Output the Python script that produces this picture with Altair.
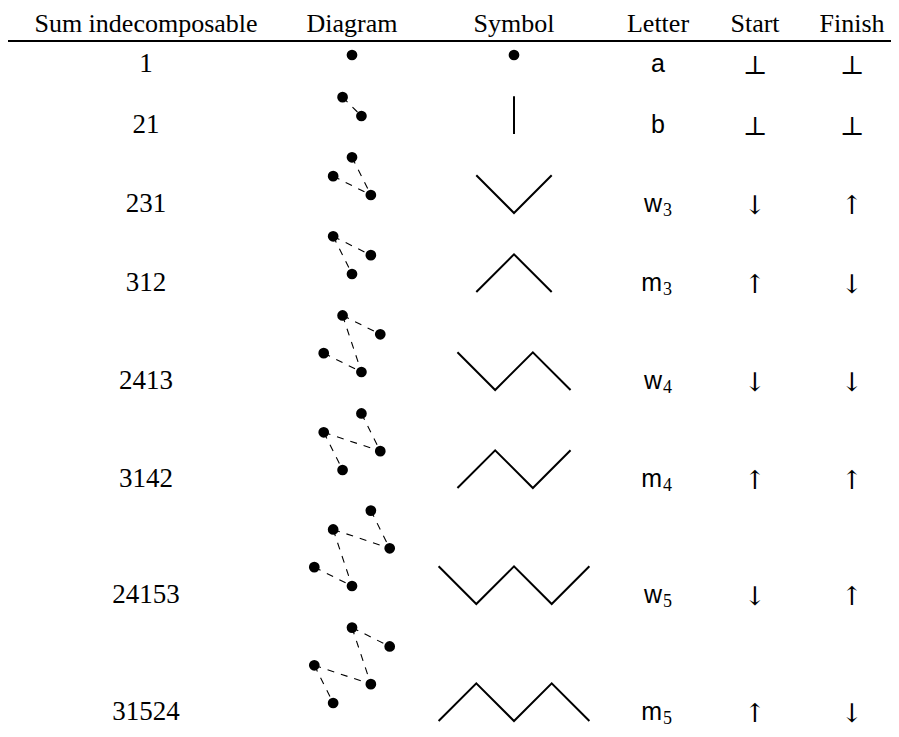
import altair as alt
import pandas as pd

# ---------------- data ----------------
headers = ["Sum indecomposable", "Diagram", "Symbol", "Letter", "Start", "Finish"]
perms = ["1", "21", "231", "312", "2413", "3142", "24153", "31524"]
letters = ["a", "b", "w", "m", "w", "m", "w", "m"]
subscripts = ["", "", "3", "3", "4", "4", "5", "5"]
starts = ["⊥", "⊥", "↓", "↑", "↓", "↑", "↓", "↑"]
finishes = ["⊥", "⊥", "↑", "↓", "↓", "↑", "↑", "↓"]
symbol_cols = [[0], [0, 0], [0, 1, 2], [0, 1, 2], [0, 1, 2, 3], [0, 1, 2, 3],
               [0, 1, 2, 3, 4], [0, 1, 2, 3, 4]]
symbol_levels = [[0], [1, 0], [1, 0, 1], [0, 1, 0], [1, 0, 1, 0], [0, 1, 0, 1],
                 [1, 0, 1, 0, 1], [0, 1, 0, 1, 0]]

# ---------------- layout ----------------
W, H = 883, 721
col_x = [146, 352, 514, 658, 755, 852]
header_y = 32
rule_y = 41
row_base = [72, 133, 212, 291, 389, 487, 603, 720]
dunit = 18.85
sunit = 37.7

header_df = pd.DataFrame({"x": col_x, "y": [header_y] * 6, "text": headers})
label_df = pd.DataFrame({"x": [col_x[0]] * len(perms), "y": row_base, "text": perms})

pts, edges = [], []
for k, p in enumerate(perms):
    n = len(p)
    coords = []
    for i, ch in enumerate(p):
        v = int(ch)
        x = col_x[1] + (i - (n - 1) / 2) * dunit
        y = row_base[k] - 17 - (v - 1) * dunit
        coords.append((x, y))
        pts.append({"x": x, "y": y})
    for i in range(n):
        for j in range(i + 1, n):
            if int(p[i]) > int(p[j]):
                edges.append({"x": coords[i][0], "y": coords[i][1],
                              "x2": coords[j][0], "y2": coords[j][1]})
pts_df = pd.DataFrame(pts)
edges_df = pd.DataFrame(edges)

sym_pts, sym_dots = [], []
for k, (cols, levs) in enumerate(zip(symbol_cols, symbol_levels)):
    if len(cols) == 1:
        sym_dots.append({"x": col_x[2], "y": row_base[k] - 17})
        continue
    mid = (max(cols) + min(cols)) / 2
    for idx, (c, l) in enumerate(zip(cols, levs)):
        sym_pts.append({"row": k, "idx": idx,
                        "x": col_x[2] + (c - mid) * sunit,
                        "y": row_base[k] + 1 - l * sunit})
sym_df = pd.DataFrame(sym_pts)
symdot_df = pd.DataFrame(sym_dots)

let_center, let_main, let_sub = [], [], []
for k, (L, s) in enumerate(zip(letters, subscripts)):
    if s == "":
        let_center.append({"x": col_x[3], "y": row_base[k], "text": L})
    else:
        let_main.append({"x": col_x[3] + 4, "y": row_base[k], "text": L})
        let_sub.append({"x": col_x[3] + 5, "y": row_base[k] + 4, "text": s})

arrow_df = pd.DataFrame(
    [{"x": col_x[4], "y": row_base[k] + 2, "text": s} for k, s in enumerate(starts)]
    + [{"x": col_x[5], "y": row_base[k] + 2, "text": f} for k, f in enumerate(finishes)]
)

X = alt.X("x:Q", scale=alt.Scale(domain=[8, 8 + W], nice=False, zero=False), axis=None)
Y = alt.Y("y:Q", scale=alt.Scale(domain=[8, 8 + H], nice=False, zero=False, reverse=True), axis=None)


def text_layer(df, font, size, align="center"):
    return alt.Chart(pd.DataFrame(df)).mark_text(
        font=font, fontSize=size, align=align, baseline="alphabetic", color="black"
    ).encode(x=X, y=Y, text="text:N")


serif = "Liberation Serif"
layers = [
    text_layer(header_df, serif, 26),
    alt.Chart(pd.DataFrame({"a": [0]})).mark_rule(color="black", strokeWidth=1.8).encode(
        x=alt.value(0), x2=alt.value(W), y=alt.value(rule_y - 8)),
    text_layer(label_df, serif, 27),
    alt.Chart(edges_df).mark_rule(color="black", strokeWidth=1.1, strokeDash=[7, 7]).encode(
        x=X, y=Y, x2="x2:Q", y2="y2:Q"),
    alt.Chart(pts_df).mark_circle(size=115, color="black", opacity=1).encode(x=X, y=Y),
    alt.Chart(sym_df).mark_line(color="black", strokeWidth=2).encode(
        x=X, y=Y, detail="row:N", order="idx:Q"),
    alt.Chart(symdot_df).mark_circle(size=115, color="black", opacity=1).encode(x=X, y=Y),
    text_layer(let_center, "Liberation Sans", 25),
    text_layer(let_main, "Liberation Sans", 25, align="right"),
    text_layer(let_sub, serif, 18, align="left"),
    text_layer(arrow_df, "DejaVu Serif", 26),
]

chart = alt.layer(*layers).properties(
    width=W, height=H, padding=0, autosize=alt.AutoSizeParams(type="none")
).configure_view(stroke=None)

chart.save("out.html", embed_options={"renderer": "svg", "actions": False})
